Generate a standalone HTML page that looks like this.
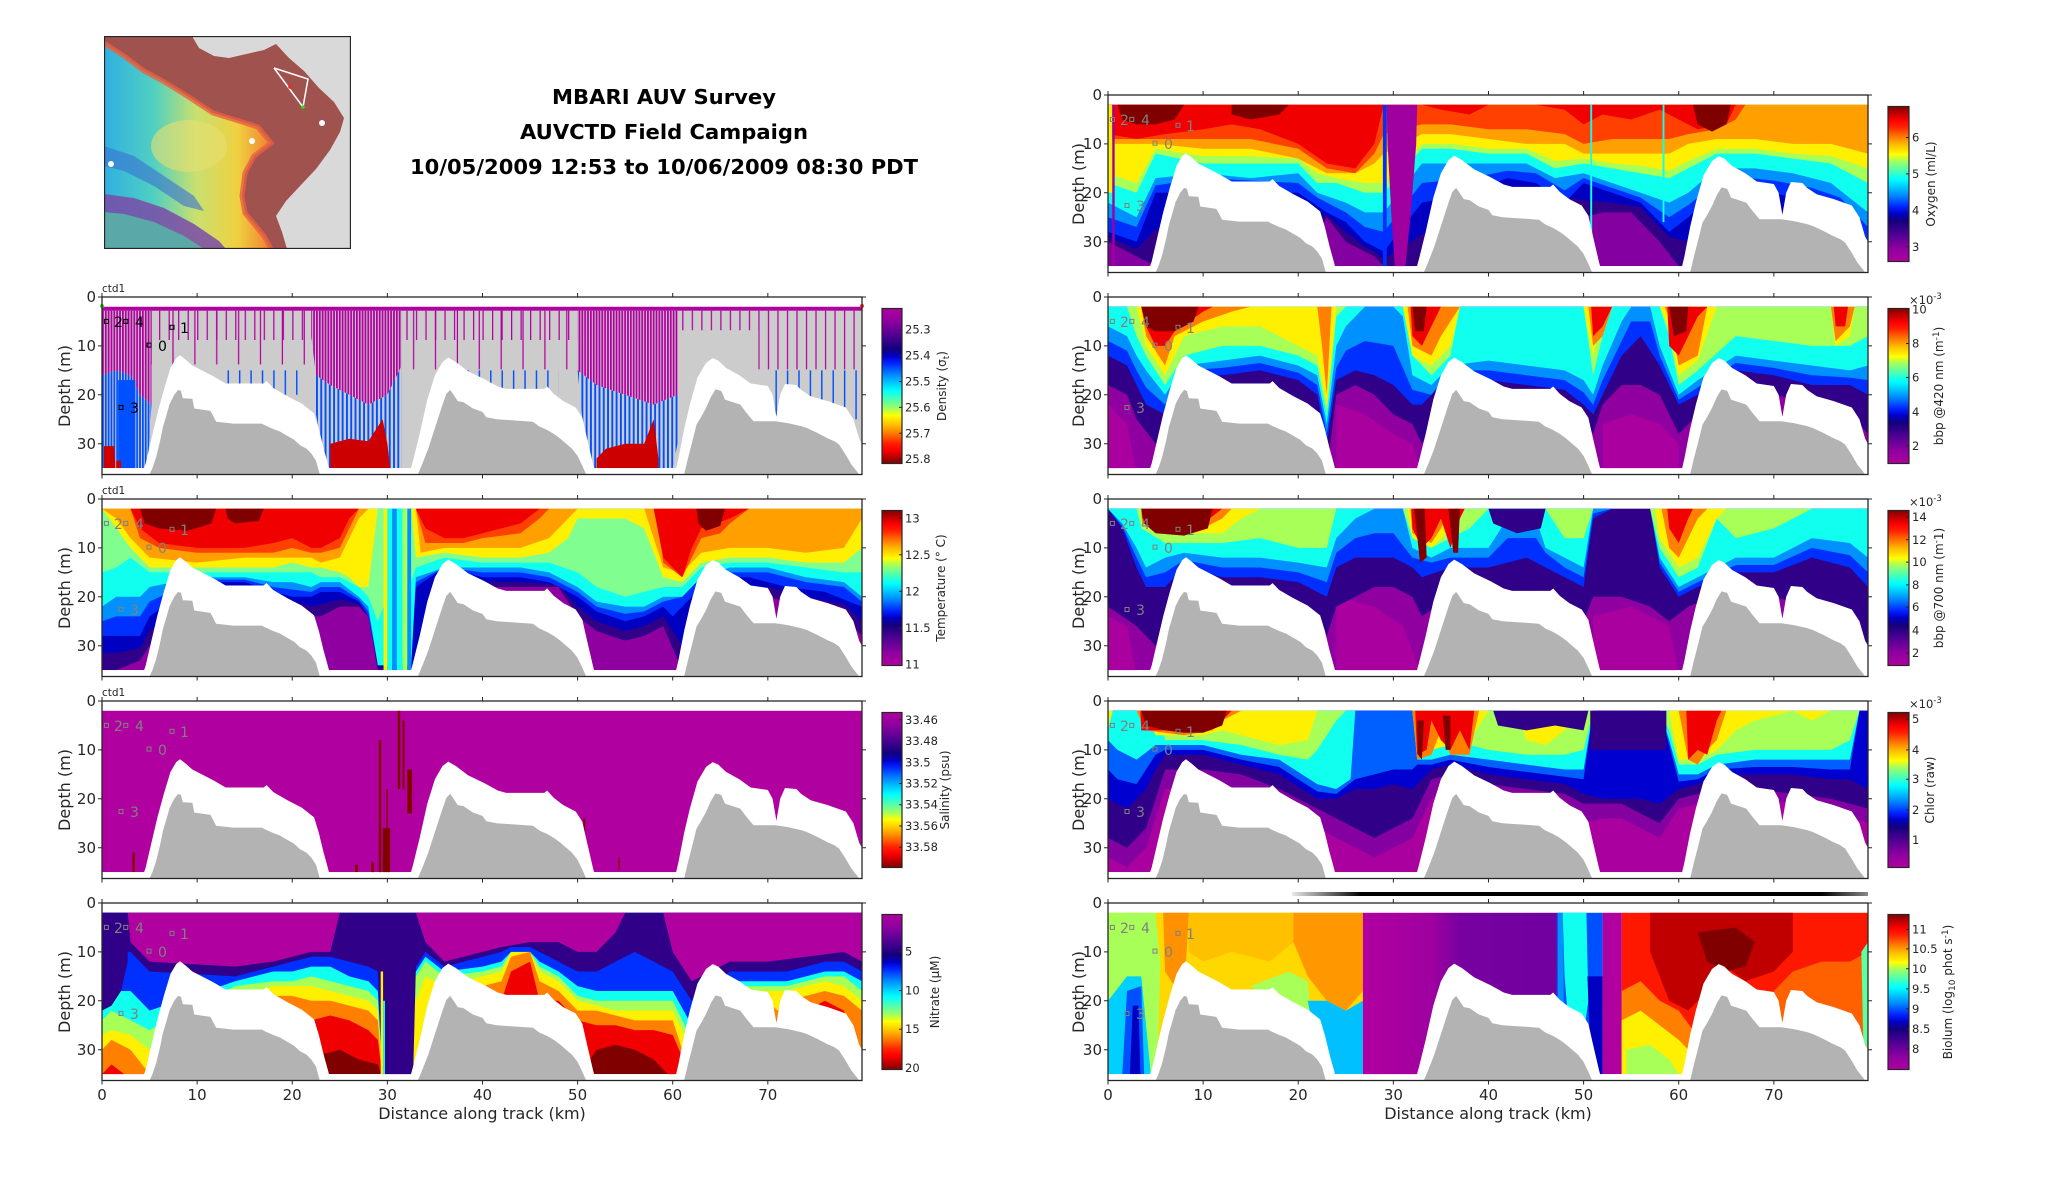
<!DOCTYPE html>
<html><head><meta charset="utf-8"><style>
html,body{margin:0;padding:0;background:#fff}
svg text{font-family:"DejaVu Sans","Liberation Sans",sans-serif;fill:#262626}
.t{font-size:15px}.lab{font-size:16px}.cb{font-size:11.5px}.cbl{font-size:12px}.mk{font-size:14px;fill:#808080}.mkb{font-size:14px;fill:#000}.ttl{font-size:20px;font-weight:bold;fill:#000}
</style></head><body>
<svg width="2052" height="1188" viewBox="0 0 2052 1188" xmlns="http://www.w3.org/2000/svg">
<defs>
<linearGradient id="jet" x1="0" y1="1" x2="0" y2="0">
<stop offset="0" stop-color="#b0009f"/><stop offset="0.08" stop-color="#9000a0"/><stop offset="0.16" stop-color="#5a0096"/><stop offset="0.22" stop-color="#300088"/><stop offset="0.26" stop-color="#14007a"/><stop offset="0.31" stop-color="#0000c8"/><stop offset="0.35" stop-color="#0020ff"/><stop offset="0.42" stop-color="#0080ff"/><stop offset="0.5" stop-color="#00e0ff"/><stop offset="0.53" stop-color="#00ffff"/><stop offset="0.6" stop-color="#60ffa0"/><stop offset="0.65" stop-color="#a8ff58"/><stop offset="0.69" stop-color="#ffff00"/><stop offset="0.75" stop-color="#ffc000"/><stop offset="0.8" stop-color="#ff8000"/><stop offset="0.87" stop-color="#ff2000"/><stop offset="0.91" stop-color="#ff0000"/><stop offset="1" stop-color="#800000"/>
</linearGradient>
<linearGradient id="jetr" x1="0" y1="0" x2="0" y2="1">
<stop offset="0" stop-color="#b0009f"/><stop offset="0.08" stop-color="#9000a0"/><stop offset="0.16" stop-color="#5a0096"/><stop offset="0.22" stop-color="#300088"/><stop offset="0.26" stop-color="#14007a"/><stop offset="0.31" stop-color="#0000c8"/><stop offset="0.35" stop-color="#0020ff"/><stop offset="0.42" stop-color="#0080ff"/><stop offset="0.5" stop-color="#00e0ff"/><stop offset="0.53" stop-color="#00ffff"/><stop offset="0.6" stop-color="#60ffa0"/><stop offset="0.65" stop-color="#a8ff58"/><stop offset="0.69" stop-color="#ffff00"/><stop offset="0.75" stop-color="#ffc000"/><stop offset="0.8" stop-color="#ff8000"/><stop offset="0.87" stop-color="#ff2000"/><stop offset="0.91" stop-color="#ff0000"/><stop offset="1" stop-color="#800000"/>
</linearGradient>
<linearGradient id="rbow" x1="0" y1="0" x2="1" y2="0">
<stop offset="0" stop-color="#30b0e0"/><stop offset="0.3" stop-color="#50d0c0"/><stop offset="0.55" stop-color="#c8e070"/><stop offset="0.8" stop-color="#f0d040"/><stop offset="1" stop-color="#f08030"/>
</linearGradient>
<linearGradient id="bioB" x1="0" y1="0" x2="1" y2="0">
<stop offset="0" stop-color="#b000a0"/><stop offset="0.35" stop-color="#a000a0"/><stop offset="0.5" stop-color="#7800a0"/><stop offset="1" stop-color="#7000a0"/>
</linearGradient>
<linearGradient id="gbar" x1="0" y1="0" x2="1" y2="0">
<stop offset="0" stop-color="#e8e8e8"/><stop offset="0.12" stop-color="#000"/><stop offset="0.92" stop-color="#000"/><stop offset="1" stop-color="#888"/>
</linearGradient>
<pattern id="pMd" patternUnits="userSpaceOnUse" width="0.3" height="40"><rect width="0.19" height="40" fill="#b0009f"/></pattern>
<pattern id="pMs" patternUnits="userSpaceOnUse" width="1.0" height="40"><rect width="0.13" height="40" fill="#b0009f"/></pattern>
<pattern id="pMs2" patternUnits="userSpaceOnUse" width="2.3" height="40"><rect x="0.5" width="0.13" height="40" fill="#b0009f"/></pattern>
<pattern id="pBd" patternUnits="userSpaceOnUse" width="0.3" height="40"><rect width="0.19" height="40" fill="#0050ff"/></pattern>
<pattern id="pB" patternUnits="userSpaceOnUse" width="0.45" height="40"><rect width="0.2" height="40" fill="#0050ff"/></pattern>
<pattern id="pBs" patternUnits="userSpaceOnUse" width="1.2" height="40"><rect width="0.15" height="40" fill="#0050ff"/></pattern>
<g id="terr">
<rect x="-1" y="35" width="82" height="2" fill="#fff"/>
<path fill="#fff" d="M4.2,36.3L4.6,34L5.2,29L5.8,24L6.5,19L7.2,14.5L7.8,12.5L8.2,11.9L8.8,12.8L9.5,14L10.5,15L11.7,16.2L13,17.7L17,17.7L17.3,17.2L18,18.6L19.5,20.3L21,21.8L22.3,23.8L22.8,27L23.3,31L23.8,34.5L24,36.3Z"/>
<path fill="#fff" d="M32.3,36.3L32.7,33.5L33.4,28L34.2,21L35,16L35.8,13.3L36.4,12.4L37.2,13.3L38.5,15.2L40.2,16.8L41.6,18.3L42.5,18.8L46.5,18.8L46.8,18.3L47.5,19.8L48.5,21.3L49.8,22.6L50.5,24.7L51,29L51.6,34L51.9,36.3Z"/>
<path fill="#fff" d="M60.2,36.3L60.6,33L61.2,27L61.8,22L62.6,16.5L63.5,13.5L64.2,12.5L64.8,13L65.6,14.5L67,16L68.2,17.7L70,18.2L70.5,20L70.9,24.5L71.3,20L71.8,17.8L73,18L73.5,19L74.5,20.3L76.3,21.3L78.2,22.6L79,25L79.6,29L79.9,30L80,36.3Z"/>
<path fill="#b3b3b3" d="M5,36.3L5.3,35L5.7,32.7L6.1,29.5L6.4,26.6L6.8,24L7.1,21.9L7.6,20L8,19L8.3,19.2L8.5,20.7L9.5,20.8L9.7,22.8L11.4,23.3L11.6,24L12,25.5L13.8,25.9L16.8,25.9L17.2,26.3L18,27L18.7,27.5L19.4,28.3L20.2,29.2L20.8,30.3L21.5,31L22,32L22.5,33.5L22.9,36.3Z"/>
<path fill="#b3b3b3" d="M33.2,36.3L33.7,34L34.3,31L34.8,28L35.3,25L35.8,22L36.2,19.8L36.6,19L36.9,19.8L37.4,21.3L38,21.5L39,22.8L40,23.5L40.4,24.6L41.5,25L45.3,25.5L46,26.5L46.8,27.2L47.5,28L48.2,29L48.8,30L49.4,31L50,32.5L50.5,34.5L50.9,36.3Z"/>
<path fill="#b3b3b3" d="M61.2,36.3L61.6,33L62,30L62.5,26.1L63,24.5L63.5,22.7L64,20.5L64.5,18.9L65.1,19.2L65.5,21L67.1,22L67.8,23.8L68.5,25.4L70.8,25.4L72.1,25.8L73.5,26.4L74.1,26.8L75.2,27.8L76.2,28.8L77,29.5L77.5,30.2L78.2,32.3L78.8,34.3L79.3,35.5L79.6,36.3Z"/>
</g>
<g id="axbox">
<rect x="0" y="0" width="760" height="177.5" fill="none" stroke="#262626" stroke-width="1.3"/>
<path stroke="#262626" stroke-width="1" fill="none" d="M0,0v-4M95.12,0v-4M190.24,0v-4M285.36,0v-4M380.48,0v-4M475.6,0v-4M570.72,0v-4M665.84,0v-4M0,177.5v4M95.12,177.5v4M190.24,177.5v4M285.36,177.5v4M380.48,177.5v4M475.6,177.5v4M570.72,177.5v4M665.84,177.5v4M0,0h-4M0,48.9h-4M0,97.8h-4M0,146.7h-4M760,0h4M760,48.9h4M760,97.8h4M760,146.7h4"/>
</g>
</defs>

<!-- MAP -->
<svg x="104" y="36" width="247" height="213" viewBox="0 0 247 213">
<rect width="247" height="213" fill="#d9d9d9"/>
<path fill="#a0524f" d="M0,0L88,0L95,12L110,20L125,22L160,14L172,8L185,22L200,35L215,52L230,66L240,82L236,96L226,114L212,133L196,150L182,165L172,180L178,196L183,213L0,213Z"/>
<path fill="url(#rbow)" d="M0,7L20,20L40,35L57,44L80,58L109,77L135,85L154,91L167,107L150,120L141,137L138,160L141,177L160,200L167,213L0,213Z"/>
<ellipse cx="85" cy="110" rx="38" ry="26" fill="#e8e070" opacity="0.6"/>
<path fill="#3a70d0" opacity="0.6" d="M0,110L30,120L60,140L90,160L100,175L80,170L50,150L20,135L0,130Z"/>
<path fill="#5aa8a8" d="M0,176L20,178L50,186L80,200L100,213L0,213Z"/>
<path fill="#7a4aa8" opacity="0.85" d="M0,158L30,162L60,172L90,188L115,205L122,213L100,213L80,200L50,186L20,178L0,176Z"/>
<path fill="none" stroke="#e86040" stroke-width="5" opacity="0.8" d="M0,7L20,20L40,35L57,44L80,58L109,77L135,85L154,91L167,107L150,120L141,137L138,160L141,177L160,200L167,213"/>
<circle cx="218" cy="87" r="3" fill="#fff"/><circle cx="148" cy="105" r="3" fill="#fff"/><circle cx="7" cy="128" r="3" fill="#fff"/>
<polyline points="170,32 204,43 199,71 170,32" fill="none" stroke="#fff" stroke-width="1.5"/>
<circle cx="186" cy="51" r="1.8" fill="#ff2020"/><circle cx="199" cy="71" r="1.8" fill="#20e020"/>
<rect x="0.5" y="0.5" width="246" height="212" fill="none" stroke="#262626" stroke-width="1.3"/>
</svg>

<!-- TITLE -->
<text class="ttl" x="664" y="104" text-anchor="middle" textLength="224" lengthAdjust="spacingAndGlyphs">MBARI AUV Survey</text>
<text class="ttl" x="664" y="139" text-anchor="middle" textLength="288" lengthAdjust="spacingAndGlyphs">AUVCTD Field Campaign</text>
<text class="ttl" x="664" y="174" text-anchor="middle" textLength="508" lengthAdjust="spacingAndGlyphs">10/05/2009 12:53 to 10/06/2009 08:30 PDT</text>

<!-- R1 OXYGEN -->
<svg x="1108" y="95" width="760" height="177.5" viewBox="0 0 79.9 36.3" preserveAspectRatio="none">
<rect x="0" y="2" width="79.9" height="33" fill="#8400a0"/>
<path fill="#300088" d="M0,2L0,30L3,33L5,35L20,35L23,25L25,30L28,33L29,35L33,35L44,22L48,20L50,25L52,24L55,24L58,30L60,35L79.9,35L79.9,2Z"/>
<path fill="#0000c0" d="M0,2L0,29L3,31.5L5,27.5L20,27.5L23,24.5L25,28L27,31L28,32L29,33.5L33,28.5L38,25L42,19.5L45,20L48,21L50,21.5L53,22L56,23L59,29L61,30L65,26.5L70,27.5L74,28.5L77,29.5L79.9,32.5L79.9,2Z"/>
<path fill="#0030ff" d="M0,2L0,28L3,30L5,20L20,20L23,24L25,26L27,30L29,32L33,22L38,20L42,17L45,18L48,22L50,18L53,20L56,22L59,28L61,25L65,18L70,20L74,22L77,24L79.9,30L79.9,2Z"/>
<path fill="#0090ff" d="M0,2L0,25L3,27L5,18.5L10,17L20,18L22,21L25,24L27,27L29,28L33,18L38,17L42,15.5L45,16L48,19.5L50,17L53,19L56,21L59,25L61,22.5L65,16.5L70,17.5L74,19L77,21L79.9,27L79.9,2Z"/>
<path fill="#10ffef" d="M0,2L0,22L3,25L5,17L10,16L15,17L20,16L22,20L25,22L27,24L29,24L33,14L36,14L40,14L44,14L47,17L50,16L53,18L56,20L59,22L61,20L64,15L68,15L72,16L76,18L79.9,24L79.9,2Z"/>
<path fill="#a8ff58" d="M0,2L0,18L3,20L5,12L10,14L15,14L20,14L22,18L24,18L27,20L29,20L33,11L36,11L40,12L44,12L47,15L50,14L53,15L56,16L59,17L61,15L64,12L68,12L72,13L76,14L79.9,18L79.9,2Z"/>
<path fill="#ffef00" d="M0,2L0,16L3,18L5,11L10,12.5L15,12.5L20,13L22,16L24,17L27,18L29,18L33,10L36,10L40,11L44,11L47,13.5L50,13L53,14L56,14.5L59,15.5L61,13.5L64,11L68,11L72,12L76,12.5L79.9,15L79.9,2Z"/>
<path fill="#ffa000" d="M0,2L0,10L5,10L10,11L15,11L20,13L23,16L26,16L28,14L29,12L33,8L36,8L40,9L44,10L48,10L50,12L53,12L56,12L59,12L61,10L64,9L68,9L72,10L76,10L79.9,12L79.9,2Z"/>
<path fill="#ff4000" d="M0,2L0,9L5,9L10,9L15,9L20,11L23,15L26,16L28,12L29,8L33,6L36,6L40,7L44,7L48,8L50,10L53,9L56,9L59,9L61,8L64,7L66,5L67,2L79.9,2Z"/>
<path fill="#f00000" d="M0,2L0,8L3,9L6,8L10,7L13,6L16,7L20,10L23,14L26,15L28,10L29,2L33,2L35,3L38,4L40,2L45,2L48,3L50,6L52,4L55,5L58,3L60,5L62,7L65,6L66,2Z"/>
<path fill="#800000" d="M1,2L8,2L7,5L5,6L3,6L1.5,5Z M13,2L19,2L18,4L15,5L13,4Z M61.5,2L65.5,2L65,6L63.5,7.5L62,6Z"/>
<rect x="0" y="2" width="0.45" height="18" fill="#ffef00"/>
<rect x="0.45" y="2" width="0.25" height="33" fill="#a000a0"/>
<rect x="28.9" y="2" width="0.4" height="33" fill="#0030ff"/>
<path fill="#a000a0" d="M29.3,2L32.5,2L32.4,10L31.8,25L31.2,36.3L30.2,36.3L29.8,25L29.4,10Z"/>
<rect x="50.7" y="2" width="0.2" height="28" fill="#10ffef"/>
<rect x="58.3" y="2" width="0.2" height="24" fill="#10ffef"/>
<use href="#terr"/>
</svg>

<!-- L1 DENSITY -->
<svg x="102" y="297" width="760" height="177.5" viewBox="0 0 79.9 36.3" preserveAspectRatio="none">
<rect x="0" y="2" width="79.9" height="33" fill="#cccccc"/>
<rect x="5.2" y="2.8" width="16.8" height="6" fill="url(#pMs)"/>
<rect x="5.2" y="2.8" width="16.8" height="11" fill="url(#pMs2)"/>
<rect x="31.5" y="2.8" width="18.5" height="6" fill="url(#pMs)"/>
<rect x="31.5" y="2.8" width="18.5" height="12" fill="url(#pMs2)"/>
<rect x="60.5" y="2.8" width="8.5" height="4" fill="url(#pMs)"/>
<rect x="69" y="2.8" width="10.9" height="12" fill="url(#pMs)"/>
<rect x="13" y="15" width="8" height="5" fill="url(#pBs)"/>
<rect x="38" y="15" width="10" height="5" fill="url(#pBs)"/>
<rect x="70" y="15" width="9.9" height="10" fill="url(#pBs)"/>
<path fill="url(#pMd)" d="M0,2.8L5.2,2.8L5.2,22L4,20L3,16L1.5,15L0,16Z"/>
<path fill="url(#pBd)" d="M0,16L1.5,15L3,16L4,20L5.2,22L4.8,35L0,35Z"/>
<rect x="1.7" y="17" width="1.8" height="18" fill="#0050ff"/>
<path fill="#cc0000" d="M0.2,30.5L1.3,30.5L1.4,35L0.2,35Z M1.5,33.5L2,33.5L2,35L1.5,35Z"/>
<path fill="url(#pMd)" d="M22,2.8L31.5,2.8L31.5,14L30,20L28,22L26,20L24,18L22.5,16L22,8Z"/>
<path fill="url(#pB)" d="M22.5,16L24,18L26,20L28,22L30,20L31.5,14L31.5,35L23.5,35L22.5,24Z"/>
<path fill="#cc0000" d="M24,30L26,29L28,29.5L29.5,25L30,30L30.3,35L24,35Z"/>
<path fill="url(#pMd)" d="M50,2.8L60.5,2.8L60.5,20L58,22L55,20L52,18L50,15Z"/>
<path fill="url(#pB)" d="M50,15L52,18L55,20L58,22L60.5,20L60.5,30L60,35L51.5,35L50.5,25Z"/>
<path fill="#cc0000" d="M52,33L53,31L55,30L57,30L58,25L58.5,33L58.5,35L52,35Z"/>
<rect x="0" y="2" width="79.9" height="0.8" fill="#b0009f"/>
<use href="#terr"/>
</svg>
<circle cx="102" cy="306" r="2" fill="#20e020"/>
<circle cx="862" cy="306" r="2" fill="#ff3030"/>

<!-- R2 BBP420 -->
<svg x="1108" y="297" width="760" height="177.5" viewBox="0 0 79.9 36.3" preserveAspectRatio="none">
<rect x="0" y="2" width="79.9" height="33" fill="#9000a0"/>
<path fill="#aa00a0" d="M24,22L27,24L30,28L32,30L33,36L24,36Z M52,26L55,24L58,26L60,30L60,36L52,36Z M0,22L2,26L3,36L0,36Z"/>
<path fill="#300088" d="M0,2L0,18L2,20L3,25L5,30L20,22L23,36L24,20L26,18L28,20L30,24L32,26L33,30L36,20L45,20L49,24L51,28L52,22L54,18L56,18L58,20L60,28L62,24L70,20L75,22L78,24L79.9,28L79.9,2Z"/>
<path fill="#0030ff" d="M0,2L0,12L2,14L3,18L4,22L6,24L8,16L12,16L16,15L20,17L22,20L23,30L24,17L26,15L28,16L30,18L31,20L32,22L33,22L36,16L40,17L44,18L48,19L50,22L51,24L52,20L54,12L56,8L58,14L60,22L62,20L66,15L70,16L74,18L78,18L79.9,20L79.9,2Z"/>
<path fill="#0090ff" d="M0,2L0,9L2,11L3,15L4,18.5L6,22L8,15L12,14.5L16,13.5L20,15.5L22,18L23,28L24,14.5L25,11L27,9L30,10L32,19L34,20L36,15L40,15L44,16L48,17L50,19.5L51,22L52,17L54,9L55,5L57,5L58,12L60,21L62,18.5L66,13.5L70,14.5L74,16L78,16.5L79.9,17L79.9,2Z"/>
<path fill="#10ffef" d="M0,2L0,6L2,8L3,12L4,15L6,20L8,14L12,13L16,12L20,14L22,16L23,26L24,10L25,6L27,2L30,2L31,4L32,16L34,18L36,14L40,13L44,14L48,15L50,17L51,20L52,14L54,5L55,2L57,2L58,10L60,20L62,17L66,12L70,13L74,14L78,15L79.9,14L79.9,2Z"/>
<path fill="#a8ff58" d="M0,2L2,2L3,8L4,12L6,18L8,12L12,10L16,10L20,12L22,14L23,24L24,4L25,2L31,2L32,12L34,16L36,12L37,2L50,2L51,16L52,8L53,2L58,2L59,8L60,18L62,15L66,8L70,9L74,10L78,10L79.9,8L79.9,2Z"/>
<path fill="#ffef00" d="M0,2L3,2L4,10L6,16L8,8L12,6L16,6L20,10L22,12L23,22L24,2L31,2L32,12L34,14L36,10L37,2L50,2L51,12L52,4L53,2L58,2L59,6L60,16L62,13L64,2L76,2L76.5,10L78,8L78.5,2L79.9,2Z"/>
<path fill="#ff8000" d="M0,2L3.5,2L4,8L6,14L7,8L10,5L13,3L15,2L22,2L22.5,10L23,20L23.5,2L31.5,2L32,10L34,12L35,8L37,2L50.5,2L51,10L52,8L53,2L58.5,2L59,4L60,14L62,12L63,2L76,2L76.5,9L78,6L78.5,2L79.9,2Z"/>
<path fill="#f00000" d="M0,2L3.5,2L4,6L5,10L6,10L7,7L10,3L11,2L31.8,2L32,8L33,10L34,6L35,2L50.8,2L51,8L52,6L53,2L58.8,2L59,10L60,12L61,8L62,4L63,2L76.3,2L76.5,6L77.5,6L77.8,2Z"/>
<path fill="#800000" d="M3.5,2L9.5,2L9,5L7,7L5,7L4,6Z M32,2L33.5,2L33.2,7L32.3,7Z M59,2L61,2L60.8,7L59.5,8Z"/>
<use href="#terr"/>
</svg>

<!-- L2 TEMPERATURE -->
<svg x="102" y="499" width="760" height="177.5" viewBox="0 0 79.9 36.3" preserveAspectRatio="none">
<rect x="0" y="2" width="79.9" height="33" fill="#9000a0"/>
<path fill="#300088" d="M0,2L0,35L1.5,35L4,33L5,30L20,22L22,24L23,24L25,22L26,22L27,22L28,24L29,35L33,35L36,20L40,18L44,18L48,18L50,24L52,27L55,29L57,28L59,26L61,35L63,20L70,20L74,22L78,24L79.9,28L79.9,2Z"/>
<path fill="#0000c0" d="M0,2L0,31.5L1.5,31.5L4,30.5L5,27L10,20L20,21L22,22L23,21.5L25,20.5L27,21.5L28,24L29,34.5L33,34L36,17L40,17L44,17L48,17.5L50,22L52,25L55,27L57,26L59,24L61,30L63,20L70,18L74,20L78,21.5L79.9,25L79.9,2Z"/>
<path fill="#0030ff" d="M0,2L0,28L1.5,28L4,28L5,24L10,17L15,17L18,19L20,20L22,20L23,19L25,19L27,21L28,24L29,34L32.5,34L33,18L36,14L40,16L44,16L47,17L50,20L52,23L55,25L57,24L59,22L60,24L62,20L65,16L68,16L72,18L76,19L79.9,22L79.9,2Z"/>
<path fill="#0090ff" d="M0,2L0,25L1.5,24L4,24L5,21L10,16.5L15,16.5L18,18L20,18.5L22,19L23,18L25,18L27,20.5L28,23L29,34L32.5,34L33,17L36,14L40,15L44,15L47,16L50,19L52,22L55,23.5L57,23L59,21L61,20L63,16L66,15L70,15L74,17L78,18L79.9,21L79.9,2Z"/>
<path fill="#10ffef" d="M0,2L0,22L1.5,20L4,20L5,18L10,16L15,16L18,17L20,17L22,18L23,17L25,17L27,20L28,22L29,34L32.5,34L33,16L36,14L40,14L44,14L47,15L50,18L52,21L55,22L57,22L59,20L61,20L63,16L66,14L70,14L74,16L78,17L79.9,20L79.9,2Z"/>
<path fill="#80ff90" d="M0,2L0,15L1.5,14L3,12L5,15L10,15L15,15L18,15L20,15L22,15L23,16L25,16L27,18L28,20L29,25L30,20L32,20L33,14L36,12L40,13L44,13L47,13L50,15L52,18L55,20L57,19L59,18L61,18L63,14L66,13L70,13L74,14L78,15L79.9,15L79.9,2Z"/>
<path fill="#ffef00" d="M0,2L1.5,6L3,10L5,14L10,14L15,14L18,14L20,13L22,14L23,14L25,15L26,16L27,18L28,18L29,2L32.5,2L33,12L36,11L40,12L44,12L47,11L49,8L50,4L52,4L55,4L57,6L59,16L61,17L63,13L66,12L70,12L74,13L78,13L79.9,10L79.9,2Z"/>
<path fill="#ffa000" d="M0,2L1.5,4L3,8L5,12L10,13L15,12L18,12L20,12L22,12L23,13L25,12L26,8L27,4L28,2L33,2L33.5,11L36,10L40,10L44,10L47,8L49,4L50,2L57,2L59,14L61,15L63,11L66,10L70,10L74,11L78,10L79.9,4L79.9,2Z"/>
<path fill="#ff4000" d="M0,2L3,2L4,8L6,10L10,11L15,11L18,11L20,10L22,11L23,11L25,10L26,6L27,2L33,2L34,9L36,9L38,9L40,8L44,7L46,4L47,2L58.5,2L59,13L61,16L62,12L63,8L65,7L66,5L68,2L79.9,2Z"/>
<path fill="#f00000" d="M0,2L3,2L4,6L6,9L10,10L15,10L18,9L20,8L22,10L23,10L25,8L26,4L27,2L33,2L34,6L36,8L38,8L40,7L44,5L46,2L58,2L59,12L61,16L62,10L63,6L66,4L68,2Z"/>
<path fill="#800000" d="M4,2L12,2L11.5,5L9,6.5L6,6L4.5,5Z M13,2L17,2L16.5,4.5L14,5L13.2,4Z M62.5,2L65.5,2L65,5.5L63.5,6.5L62.7,5Z"/>
<rect x="29.6" y="2" width="0.4" height="33" fill="#ffef00"/>
<rect x="30" y="2" width="0.5" height="33" fill="#10ffef"/>
<rect x="30.5" y="2" width="0.5" height="33" fill="#0090ff"/>
<rect x="31" y="2" width="0.6" height="33" fill="#10ffef"/>
<rect x="31.6" y="2" width="0.5" height="33" fill="#a8ff58"/>
<rect x="32.1" y="2" width="0.4" height="33" fill="#0090ff"/>
<use href="#terr"/>
</svg>

<!-- R3 BBP700 -->
<svg x="1108" y="499" width="760" height="177.5" viewBox="0 0 79.9 36.3" preserveAspectRatio="none">
<rect x="0" y="2" width="79.9" height="33" fill="#9000a0"/>
<path fill="#aa00a0" d="M24,20L28,22L31,26L33,36L24,36Z M51,24L55,22L59,26L60,36L51,36Z M0,24L2,26L3,36L0,36Z"/>
<path fill="#300088" d="M0,2L0,22L3,26L5,30L20,22L23,28L24,22L28,18L30,18L32,20L33,24L36,20L44,20L48,22L50,25L51,20L54,20L57,22L59,25L61,22L66,18L70,20L74,22L78,24L79.9,30L79.9,2Z"/>
<path fill="#0030ff" d="M0,2L1.5,6L3,14L4,18L6,18L8,14L12,16L16,16L20,17L23,20L24,14L26,12L28,12L30,12L32,14L33,16L36,14L40,14L44,12L48,16L50,18L51,4L53,2L57,2L58,14L60,20L62,18L66,15L70,15L74,12L78,14L79.9,18L79.9,2Z"/>
<path fill="#0090ff" d="M0,2L1.5,5.5L3,12L4,16L6,15L8,12.5L12,14L16,14L20,15L23,17L24,11L26,8L28,7L30,7L32,12L34,13L36,12L40,12L42,8L45,8L46,11L48,14L50,16L51,3L53,2L57,2L58,13L60,19L62,17L66,13.5L70,13.5L74,10L78,11.5L79.9,15L79.9,2Z"/>
<path fill="#10ffef" d="M0,2L1.5,5L3,10L4,14L6,12L8,11L12,12L16,12L20,13L23,14L24,8L26,4L28,2L31,2L32,10L34,12L36,10L40,10L42,4L45,4L46,10L48,12L50,14L51,2L57,2L58,12L60,18L62,16L66,12L70,12L74,8L78,9L79.9,12L79.9,2Z"/>
<path fill="#a8ff58" d="M0,2L3,2L3.5,6L6,9L8,9L12,9L16,8L20,10L23,10L24,2L31,2L32,8L34,10L36,8L38,6L40,2L46,2L48,8L50,8L51,2L57,2L58,10L60,16L62,14L64,4L66,8L70,6L74,2L79.9,2Z"/>
<path fill="#ffef00" d="M0,2L3.5,2L4,6L8,7L12,7L14,4L16,2L31.5,2L32,8L34,10L36,6L37,2L57.5,2L58,8L60,14L62,12L64,4L65,2L79.9,2Z"/>
<path fill="#ff8000" d="M0,2L3.5,2L3.6,5L10,6L12,4L13,2L31.8,2L32,7L34,9L35,6L36,2L58.2,2L59,10L60,12L61,8L62,4L63,2L79.9,2Z"/>
<path fill="#f00000" d="M0,2L3.5,2L3.6,4L10,5L12,2L31.9,2L32,6L33,10L34,8L35,4L36,10L37,4L37.5,2L58.8,2L59,6L60,9L61,4L61.5,2L79.9,2Z"/>
<path fill="#800000" d="M3.5,2L11,2L10.5,6L8,7.5L5,7L3.8,5Z M32.2,2L33.3,2L33.5,12L32.8,13Z M35.8,2L37,2L36.8,11L36.3,11Z"/>
<path fill="#300088" d="M40,2L46,2L45.5,6L43,7L40.5,5Z"/>
<use href="#terr"/>
</svg>

<!-- L3 SALINITY -->
<svg x="102" y="701" width="760" height="177.5" viewBox="0 0 79.9 36.3" preserveAspectRatio="none">
<rect x="0" y="2" width="79.9" height="33" fill="#b0009f"/>
<g fill="#800000">
<rect x="3.2" y="31" width="0.25" height="4"/>
<rect x="26.6" y="33.5" width="0.3" height="1.5"/>
<rect x="28.3" y="33" width="0.3" height="3"/>
<rect x="29.1" y="8" width="0.25" height="28"/>
<rect x="29.5" y="26" width="0.8" height="10"/>
<rect x="29.9" y="18" width="0.15" height="18"/>
<rect x="31.1" y="2" width="0.25" height="16"/>
<rect x="31.6" y="4" width="0.2" height="14"/>
<rect x="32.1" y="14" width="0.5" height="9"/>
<rect x="50.6" y="24" width="0.2" height="6"/>
<rect x="54.3" y="32" width="0.15" height="2.5"/>
</g>
<use href="#terr"/>
</svg>

<!-- R4 CHLOR -->
<svg x="1108" y="701" width="760" height="177.5" viewBox="0 0 79.9 36.3" preserveAspectRatio="none">
<rect x="0" y="2" width="79.9" height="33" fill="#aa00a0"/>
<path fill="#8400a0" d="M0,2L0,32L2,34L4,30L6,18L10,18L14,18L18,22L22,26L24,28L26,30L28,32L30,30L32,28L34,20L36,18L40,19L44,20L48,22L50,25L52,24L54,24L56,26L58,28L60,22L64,20L68,20L72,21L76,22L79.9,25L79.9,2Z"/>
<path fill="#300088" d="M0,2L0,28L2,30L4,26L6,14L10,14L14,15L18,18L22,22L24,24L26,26L28,28L30,26L32,24L34,16L36,15L40,17L44,18L48,19L50,21L52,21L54,21L56,23L58,25L60,20L64,18L68,18L72,19L76,20L79.9,22L79.9,2Z"/>
<path fill="#0000d0" d="M0,2L0,20L2,22L4,18L5,14L6,11L10,11L14,13L18,15L22,20L24,20L26,18L28,18L30,17L32,18L34,14L36,13L40,15L44,16L48,17L50,19L52,20L54,20L56,20L58,21L60,18L62,17L64,15L68,15L72,15L76,16L78,16L79.9,18L79.9,2Z"/>
<path fill="#0060ff" d="M0,2L0,14L1,16L3,17L5,11L6,10L10,10L14,12L18,13.5L22,18.5L24,19L26,16L28,15L30,14L32,14L32.5,13L34,13L36,12L40,13.5L44,14.5L48,15.5L50,16L51,2L58,2L59,9L60,16.5L62,16L64,14L68,13.5L72,13.5L76,14L78,14L79,2L79.9,2Z"/>
<path fill="#10ffef" d="M0,2L0,8L1,10L3,12L5,9L6,9L10,9L14,11L18,12L22,17L24,18L25.5,16L26,2L32,2L32.5,12L34,12L36,11L40,12L44,13L48,14L50,14L51,2L58,2L59,8L60,15L62,15L64,13L68,12L72,12L76,12L78,12L79,2Z"/>
<path fill="#a8ff58" d="M0,2L0,6L0.5,2L5.5,2L6,8L10,8L14,9L18,11L21,12L22,10L24,4L25,2L32,2L32.5,10L34,10L36,9L38,9L40,10L44,11L48,11L50,10L51,2L58,2L59,6L60,13L62,13L64,11L68,10L72,10L76,10L78,8L79,2Z"/>
<path fill="#ffef00" d="M0,2L0,5L0.5,2L4,2L5,7L10,7L12,6L14,7L18,9L21,8L22,2L32,2L32.5,10L34,10L36,9L38,8L40,2L43,2L44,8L46,9L48,6L50,2L59,2L60,12L62,12L64,10L66,6L68,4L72,2L74,4L76,2Z"/>
<path fill="#ff8000" d="M0,2L3,2L4,6L8,7L11,6L12,4L14,2L32,2L32.5,12L34,11L35,6L36,11L38,11L39,2L60,2L61,12L62,13L63,10L64,8L65,2Z"/>
<path fill="#f00000" d="M0,2L3.4,2L3.5,6L10,6L12,4L13,2L32.3,2L32.5,11L33.5,10L34,4L35,8L36,10L37,6L38,10L38.5,2L60.8,2L61,12L62,10L63,11L64,4L64.5,2Z"/>
<path fill="#800000" d="M3.5,2L12.5,2L12,5L10,6.5L8,6.5L6,6L4,5Z M32.5,4L33.2,4L33,12L32.6,11Z M35.2,3L36,3L36,10L35.5,10Z"/>
<path fill="#300088" d="M40.5,2L50.5,2L50,6L47,5L44,6L41,5Z M50.7,2L58.7,2L58.7,10L50.7,10Z"/>
<use href="#terr"/>
</svg>

<!-- L4 NITRATE -->
<svg x="102" y="903" width="760" height="177.5" viewBox="0 0 79.9 36.3" preserveAspectRatio="none">
<rect x="0" y="2" width="79.9" height="33" fill="#800000"/>
<path fill="#f00000" d="M0,2L0,36L20,36L23,31L25,30L27,32L29,33L29.5,36L50,36L52,30L54,29L56,30L58,32L60,36L79.9,36L79.9,2Z"/>
<path fill="#ff8000" d="M0,2L0,35L1,33L3,36L20,30L22,24L24,23L26,24L28,26L29,28L29.5,36L33,36L40,36L42,20L43,14L45,12L46,20L48,20L50,24L52,25L54,25L56,26L58,26L60,27L62,36L70,36L71,23L72,36L74,22L76,20L78,22L79.9,36L79.9,2Z"/>
<path fill="#ffef00" d="M0,2L0,30L1,28L3,30L5,35L14,22L18,19L20,19L22,20L24,20L26,21L28,22L29,24L29.5,36L33,36L36,20L40,17L42,16L43,11L45,10L46,16L48,18L50,22L52,22L54,23L56,24L58,24L60,24L62,36L66,20L70,20L71,22L72,20L74,19L76,18L78,19L79.9,22L79.9,2Z"/>
<path fill="#a8ff58" d="M0,2L0,27L1,26L3,27L5,30L14,19L18,17L20,17L22,17L24,18L26,19L28,20L29,22L29.5,36L33,20L34,15L36,17L40,15L42,14L43,10L45,10L46,14L48,16L50,20L52,21L54,22L56,22L58,22L60,22L62,30L66,18L70,18L72,18L74,17L76,16L78,17L79.9,20L79.9,2Z"/>
<path fill="#10ffef" d="M0,2L0,24L1,22L3,24L5,26L14,17L18,16L20,16L22,15L24,16L26,17L28,18L29,20L29.5,36L33,15L34,12L36,15L40,14L42,13L43,10L45,10L46,13L48,15L50,19L52,20L54,20L56,20L58,20L60,20L62,28L66,17L70,17L72,17L74,16L76,15L78,15L79.9,18L79.9,2Z"/>
<path fill="#0030ff" d="M0,2L0,22L1,18L3,18L5,22L14,16L18,14L20,14L22,13L24,13L26,15L28,16L29,18L29.5,36L33,14L34,11L36,14L40,13L42,12L43,10L45,10L46,12L48,14L50,17L52,18L54,18L56,18L58,18L60,18L62,25L66,16L70,16L72,16L74,15L76,14L78,14L79.9,16L79.9,2Z"/>
<path fill="#300088" d="M0,2L0,10L3,10L5,14L14,15L18,13L20,12L22,11L24,11L26,12L28,13L29,14L29.5,36L32.7,36L33,13L34,10L36,13L40,11L42,10L43,9L45,9L46,10L48,12L50,14L52,14L54,12L56,10L58,12L60,14L62,20L66,14L70,14L72,14L74,13L76,12L78,12L79.9,14L79.9,2Z"/>
<path fill="#b0009f" d="M0,2L2.7,2L3,8L5,12L14,13L18,12L20,11L22,10L24,10L25,2L33,2L34,8L36,12L40,10L42,9L45,8L48,8L50,10L52,10L54,6L55,2L59,2L60,10L62,16L66,12L70,12L74,11L78,10L79.9,12L79.9,2Z"/>
<path fill="#300088" d="M0,2L2.7,2L2.7,12L2,18L1,21L0,22Z"/>
<rect x="29.3" y="14" width="0.25" height="22" fill="#ffef00"/>
<rect x="29.55" y="20" width="0.2" height="16" fill="#10ffef"/>
<use href="#terr"/>
</svg>

<!-- R5 BIOLUM -->
<svg x="1108" y="903" width="760" height="177.5" viewBox="0 0 79.9 36.3" preserveAspectRatio="none">
<rect x="0" y="2" width="26.8" height="33" fill="#ffd800"/>
<path fill="#ffc000" d="M8.5,2L19.5,2L19.5,8L17,12L13,10L10,12L8.5,10Z"/>
<path fill="#a8ff58" d="M0,2L5,2L5.5,12L5.2,35L0,35Z"/>
<path fill="#00d0ff" d="M0,20L2,15L3.5,15L4,25L4.5,35L0,35Z"/>
<path fill="#0050ff" d="M1.5,35L2,18L3.5,17L3.8,35Z"/>
<path fill="#0000c0" d="M2.3,35L2.6,21L3.2,21L3.4,35Z"/>
<path fill="#ff9000" d="M5.8,2L8.5,2L8.2,12L7,17L6,14Z"/>
<path fill="#ff9800" d="M19.5,2L26.8,2L26.8,18L25,22L23,20L21,15L19.5,8Z"/>
<path fill="#a8ff58" d="M15,17L19,14L21,16L21.5,25L18,22Z"/>
<path fill="#00c0ff" d="M21,20L23,20L25,22L26.8,20L26.8,35L22.5,35L21.5,25Z"/>
<rect x="26.8" y="2" width="20.4" height="34.3" fill="url(#bioB)"/>
<rect x="47.2" y="2" width="4.8" height="33" fill="#0050ff"/>
<path fill="#0090ff" d="M47.3,2L47.8,2L48,30L47.3,30Z"/>
<path fill="#10ffef" d="M47.8,2L50.3,2L50.5,20L50,27L48.5,27L48,15Z"/>
<path fill="#0000c0" d="M50.4,15L52,15L52,35L50.8,35Z"/>
<rect x="52" y="2" width="2" height="33" fill="#b0009f"/>
<rect x="54" y="2" width="25.9" height="33" fill="#ff1800"/>
<path fill="#ff8000" d="M54,18L56,16L58,20L60,22L61.5,26L61.5,35L54,35Z"/>
<path fill="#ffef00" d="M54,24L56,22L58,25L60,28L61,30L61.5,35L54,35Z"/>
<path fill="#a8ff58" d="M54.5,30L57,29L59,32L60,35L54.5,35Z"/>
<path fill="#c00000" d="M57,2L72,2L72,10L70,14L67,16L65,13L63,18L61,22L59,20L57,10Z"/>
<path fill="#800000" d="M62,6L66,5L68,8L67,13L65,14L63,12Z"/>
<path fill="#ff6000" d="M70,18L72,14L75,12L78,12L79.9,10L79.9,30L70,30Z"/>
<path fill="#60ffa0" d="M79.2,10L79.9,8L79.9,30L79.4,28Z"/>
<use href="#terr"/>
</svg>
<rect x="1292" y="892" width="576" height="4" fill="url(#gbar)"/>

<!-- AXES BOXES -->
<use href="#axbox" x="1108" y="95"/>
<use href="#axbox" x="102" y="297"/>
<use href="#axbox" x="1108" y="297"/>
<use href="#axbox" x="102" y="499"/>
<use href="#axbox" x="1108" y="499"/>
<use href="#axbox" x="102" y="701"/>
<use href="#axbox" x="1108" y="701"/>
<use href="#axbox" x="102" y="903"/>
<use href="#axbox" x="1108" y="903"/>

<!-- MARKERS -->
<g fill="none" stroke="#000" stroke-width="1">
<rect x="104.4" y="319.4" width="4" height="4"/><rect x="123.8" y="319.4" width="4" height="4"/><rect x="170" y="325.3" width="4" height="4"/><rect x="147" y="343.1" width="4" height="4"/><rect x="119" y="405.5" width="4" height="4"/>
</g>
<text class="mkb" x="114" y="327">2</text><text class="mkb" x="135" y="327">4</text><text class="mkb" x="180" y="333">1</text><text class="mkb" x="158" y="351">0</text><text class="mkb" x="130" y="413">3</text>
<g fill="none" stroke="#808080" stroke-width="1">
<rect x="104.4" y="521.4" width="4" height="4"/><rect x="123.8" y="521.4" width="4" height="4"/><rect x="170" y="527.3" width="4" height="4"/><rect x="147" y="545.1" width="4" height="4"/><rect x="119" y="607.5" width="4" height="4"/>
<rect x="104.4" y="723.4" width="4" height="4"/><rect x="123.8" y="723.4" width="4" height="4"/><rect x="170" y="729.3" width="4" height="4"/><rect x="147" y="747.1" width="4" height="4"/><rect x="119" y="809.5" width="4" height="4"/>
<rect x="104.4" y="925.4" width="4" height="4"/><rect x="123.8" y="925.4" width="4" height="4"/><rect x="170" y="931.3" width="4" height="4"/><rect x="147" y="949.1" width="4" height="4"/><rect x="119" y="1011.5" width="4" height="4"/>
<rect x="1110.4" y="117.4" width="4" height="4"/><rect x="1129.8" y="117.4" width="4" height="4"/><rect x="1176" y="123.3" width="4" height="4"/><rect x="1153" y="141.1" width="4" height="4"/><rect x="1125" y="203.5" width="4" height="4"/>
<rect x="1110.4" y="319.4" width="4" height="4"/><rect x="1129.8" y="319.4" width="4" height="4"/><rect x="1176" y="325.3" width="4" height="4"/><rect x="1153" y="343.1" width="4" height="4"/><rect x="1125" y="405.5" width="4" height="4"/>
<rect x="1110.4" y="521.4" width="4" height="4"/><rect x="1129.8" y="521.4" width="4" height="4"/><rect x="1176" y="527.3" width="4" height="4"/><rect x="1153" y="545.1" width="4" height="4"/><rect x="1125" y="607.5" width="4" height="4"/>
<rect x="1110.4" y="723.4" width="4" height="4"/><rect x="1129.8" y="723.4" width="4" height="4"/><rect x="1176" y="729.3" width="4" height="4"/><rect x="1153" y="747.1" width="4" height="4"/><rect x="1125" y="809.5" width="4" height="4"/>
<rect x="1110.4" y="925.4" width="4" height="4"/><rect x="1129.8" y="925.4" width="4" height="4"/><rect x="1176" y="931.3" width="4" height="4"/><rect x="1153" y="949.1" width="4" height="4"/><rect x="1125" y="1011.5" width="4" height="4"/>
</g>
<text class="mk" x="114" y="529">2</text><text class="mk" x="135" y="529">4</text><text class="mk" x="180" y="535">1</text><text class="mk" x="158" y="553">0</text><text class="mk" x="130" y="615">3</text>
<text class="mk" x="114" y="731">2</text><text class="mk" x="135" y="731">4</text><text class="mk" x="180" y="737">1</text><text class="mk" x="158" y="755">0</text><text class="mk" x="130" y="817">3</text>
<text class="mk" x="114" y="933">2</text><text class="mk" x="135" y="933">4</text><text class="mk" x="180" y="939">1</text><text class="mk" x="158" y="957">0</text><text class="mk" x="130" y="1019">3</text>
<text class="mk" x="1120" y="125">2</text><text class="mk" x="1141" y="125">4</text><text class="mk" x="1186" y="131">1</text><text class="mk" x="1164" y="149">0</text><text class="mk" x="1136" y="211">3</text>
<text class="mk" x="1120" y="327">2</text><text class="mk" x="1141" y="327">4</text><text class="mk" x="1186" y="333">1</text><text class="mk" x="1164" y="351">0</text><text class="mk" x="1136" y="413">3</text>
<text class="mk" x="1120" y="529">2</text><text class="mk" x="1141" y="529">4</text><text class="mk" x="1186" y="535">1</text><text class="mk" x="1164" y="553">0</text><text class="mk" x="1136" y="615">3</text>
<text class="mk" x="1120" y="731">2</text><text class="mk" x="1141" y="731">4</text><text class="mk" x="1186" y="737">1</text><text class="mk" x="1164" y="755">0</text><text class="mk" x="1136" y="817">3</text>
<text class="mk" x="1120" y="933">2</text><text class="mk" x="1141" y="933">4</text><text class="mk" x="1186" y="939">1</text><text class="mk" x="1164" y="957">0</text><text class="mk" x="1136" y="1019">3</text>

<!-- ctd1 labels -->
<text x="102" y="292" style="font-size:10.5px">ctd1</text>
<text x="102" y="494" style="font-size:10.5px">ctd1</text>
<text x="102" y="696" style="font-size:10.5px">ctd1</text>

<!-- Y TICK LABELS -->
<g class="t" text-anchor="end">
<text x="96" y="302">0</text><text x="96" y="351">10</text><text x="96" y="400">20</text><text x="96" y="449">30</text>
<text x="96" y="504">0</text><text x="96" y="553">10</text><text x="96" y="602">20</text><text x="96" y="651">30</text>
<text x="96" y="706">0</text><text x="96" y="755">10</text><text x="96" y="804">20</text><text x="96" y="853">30</text>
<text x="96" y="908">0</text><text x="96" y="957">10</text><text x="96" y="1006">20</text><text x="96" y="1055">30</text>
<text x="1102" y="100">0</text><text x="1102" y="149">10</text><text x="1102" y="198">20</text><text x="1102" y="247">30</text>
<text x="1102" y="302">0</text><text x="1102" y="351">10</text><text x="1102" y="400">20</text><text x="1102" y="449">30</text>
<text x="1102" y="504">0</text><text x="1102" y="553">10</text><text x="1102" y="602">20</text><text x="1102" y="651">30</text>
<text x="1102" y="706">0</text><text x="1102" y="755">10</text><text x="1102" y="804">20</text><text x="1102" y="853">30</text>
<text x="1102" y="908">0</text><text x="1102" y="957">10</text><text x="1102" y="1006">20</text><text x="1102" y="1055">30</text>
</g>
<!-- X TICK LABELS -->
<g class="t" text-anchor="middle">
<text x="102" y="1100">0</text><text x="197.1" y="1100">10</text><text x="292.2" y="1100">20</text><text x="387.4" y="1100">30</text><text x="482.5" y="1100">40</text><text x="577.6" y="1100">50</text><text x="672.7" y="1100">60</text><text x="767.8" y="1100">70</text>
<text x="1108" y="1100">0</text><text x="1203.1" y="1100">10</text><text x="1298.2" y="1100">20</text><text x="1393.4" y="1100">30</text><text x="1488.5" y="1100">40</text><text x="1583.6" y="1100">50</text><text x="1678.7" y="1100">60</text><text x="1773.8" y="1100">70</text>
</g>
<text class="lab" x="482" y="1119" text-anchor="middle">Distance along track (km)</text>
<text class="lab" x="1488" y="1119" text-anchor="middle">Distance along track (km)</text>

<!-- Y LABELS -->
<g class="lab" text-anchor="middle">
<text transform="translate(65,386) rotate(-90)" y="5">Depth (m)</text>
<text transform="translate(65,588) rotate(-90)" y="5">Depth (m)</text>
<text transform="translate(65,790) rotate(-90)" y="5">Depth (m)</text>
<text transform="translate(65,992) rotate(-90)" y="5">Depth (m)</text>
<text transform="translate(1079,184) rotate(-90)" y="5">Depth (m)</text>
<text transform="translate(1079,386) rotate(-90)" y="5">Depth (m)</text>
<text transform="translate(1079,588) rotate(-90)" y="5">Depth (m)</text>
<text transform="translate(1079,790) rotate(-90)" y="5">Depth (m)</text>
<text transform="translate(1079,992) rotate(-90)" y="5">Depth (m)</text>
</g>

<!-- COLORBARS -->
<g stroke="#262626" stroke-width="1.2">
<rect x="882" y="308.5" width="20" height="155" fill="url(#jetr)"/>
<rect x="882" y="510.5" width="20" height="155" fill="url(#jet)"/>
<rect x="882" y="712.5" width="20" height="155" fill="url(#jetr)"/>
<rect x="882" y="914.5" width="20" height="155" fill="url(#jetr)"/>
<rect x="1888" y="106.5" width="21" height="155" fill="url(#jet)"/>
<rect x="1888" y="308.5" width="21" height="155" fill="url(#jet)"/>
<rect x="1888" y="510.5" width="21" height="155" fill="url(#jet)"/>
<rect x="1888" y="712.5" width="21" height="155" fill="url(#jet)"/>
<rect x="1888" y="914.5" width="21" height="155" fill="url(#jet)"/>
</g>
<g stroke="#262626" stroke-width="1">
<path d="M899,329.7h3M899,355.6h3M899,381.5h3M899,407.4h3M899,433.3h3M899,459.2h3"/>
<path d="M899,518.3h3M899,554.8h3M899,591.4h3M899,628h3"/>
<path d="M899,719.8h3M899,741h3M899,762.3h3M899,783.5h3M899,804.7h3M899,826h3M899,847.2h3"/>
<path d="M899,951.7h3M899,990.5h3M899,1029.2h3"/>
<path d="M1906,137.5h3M1906,173.9h3M1906,210.4h3M1906,246.8h3"/>
<path d="M1906,343.5h3M1906,377.5h3M1906,411.9h3M1906,445.8h3"/>
<path d="M1906,517.2h3M1906,539.8h3M1906,562.1h3M1906,584.9h3M1906,607.2h3M1906,630.5h3M1906,653.1h3"/>
<path d="M1906,719.2h3M1906,749.9h3M1906,779.2h3M1906,809.8h3M1906,839.9h3"/>
<path d="M1906,929.5h3M1906,948.9h3M1906,968.8h3M1906,988.9h3M1906,1008.9h3M1906,1028.9h3M1906,1048.9h3"/>
</g>
<g class="cb">
<text x="905" y="333.7">25.3</text><text x="905" y="359.6">25.4</text><text x="905" y="385.5">25.5</text><text x="905" y="411.4">25.6</text><text x="905" y="437.3">25.7</text><text x="905" y="463.2">25.8</text>
<text x="905" y="522.3">13</text><text x="905" y="558.8">12.5</text><text x="905" y="595.4">12</text><text x="905" y="632">11.5</text><text x="905" y="668.6">11</text>
<text x="905" y="723.8">33.46</text><text x="905" y="745">33.48</text><text x="905" y="766.3">33.5</text><text x="905" y="787.5">33.52</text><text x="905" y="808.7">33.54</text><text x="905" y="830">33.56</text><text x="905" y="851.2">33.58</text>
<text x="905" y="955.7">5</text><text x="905" y="994.5">10</text><text x="905" y="1033.2">15</text><text x="905" y="1072">20</text>
<text x="1912" y="141.5">6</text><text x="1912" y="177.9">5</text><text x="1912" y="214.4">4</text><text x="1912" y="250.8">3</text>
<text x="1912" y="313.3">10</text><text x="1912" y="347.5">8</text><text x="1912" y="381.5">6</text><text x="1912" y="415.9">4</text><text x="1912" y="449.8">2</text>
<text x="1912" y="521.2">14</text><text x="1912" y="543.8">12</text><text x="1912" y="566.1">10</text><text x="1912" y="588.9">8</text><text x="1912" y="611.2">6</text><text x="1912" y="634.5">4</text><text x="1912" y="657.1">2</text>
<text x="1912" y="723.2">5</text><text x="1912" y="753.9">4</text><text x="1912" y="783.2">3</text><text x="1912" y="813.8">2</text><text x="1912" y="843.9">1</text>
<text x="1912" y="933.5">11</text><text x="1912" y="952.9">10.5</text><text x="1912" y="972.8">10</text><text x="1912" y="992.9">9.5</text><text x="1912" y="1012.9">9</text><text x="1912" y="1032.9">8.5</text><text x="1912" y="1052.9">8</text>
</g>
<g class="cb">
<text x="1909" y="304">×10<tspan dy="-5" style="font-size:8.5px">-3</tspan></text>
<text x="1909" y="506">×10<tspan dy="-5" style="font-size:8.5px">-3</tspan></text>
<text x="1909" y="708">×10<tspan dy="-5" style="font-size:8.5px">-3</tspan></text>
</g>
<g class="cbl" text-anchor="middle">
<text transform="translate(942,386) rotate(-90)" y="4">Density (σ<tspan dy="3" style="font-size:9px">t</tspan><tspan dy="-3">)</tspan></text>
<text transform="translate(941,588) rotate(-90)" y="4">Temperature (° C)</text>
<text transform="translate(945,790) rotate(-90)" y="4">Salinity (psu)</text>
<text transform="translate(935,992) rotate(-90)" y="4">Nitrate (μM)</text>
<text transform="translate(1931,184) rotate(-90)" y="4">Oxygen (ml/L)</text>
<text transform="translate(1939,386) rotate(-90)" y="4">bbp @420 nm (m<tspan dy="-4" style="font-size:9px">-1</tspan><tspan dy="4">)</tspan></text>
<text transform="translate(1939,588) rotate(-90)" y="4">bbp @700 nm (m<tspan dy="-4" style="font-size:9px">-</tspan><tspan dy="4">1)</tspan></text>
<text transform="translate(1930,790) rotate(-90)" y="4">Chlor (raw)</text>
<text transform="translate(1948,992) rotate(-90)" y="4">Biolum (log<tspan dy="3" style="font-size:9px">10</tspan><tspan dy="-3"> phot s</tspan><tspan dy="-4" style="font-size:9px">-1</tspan><tspan dy="4">)</tspan></text>
</g>
</svg>
</body></html>
